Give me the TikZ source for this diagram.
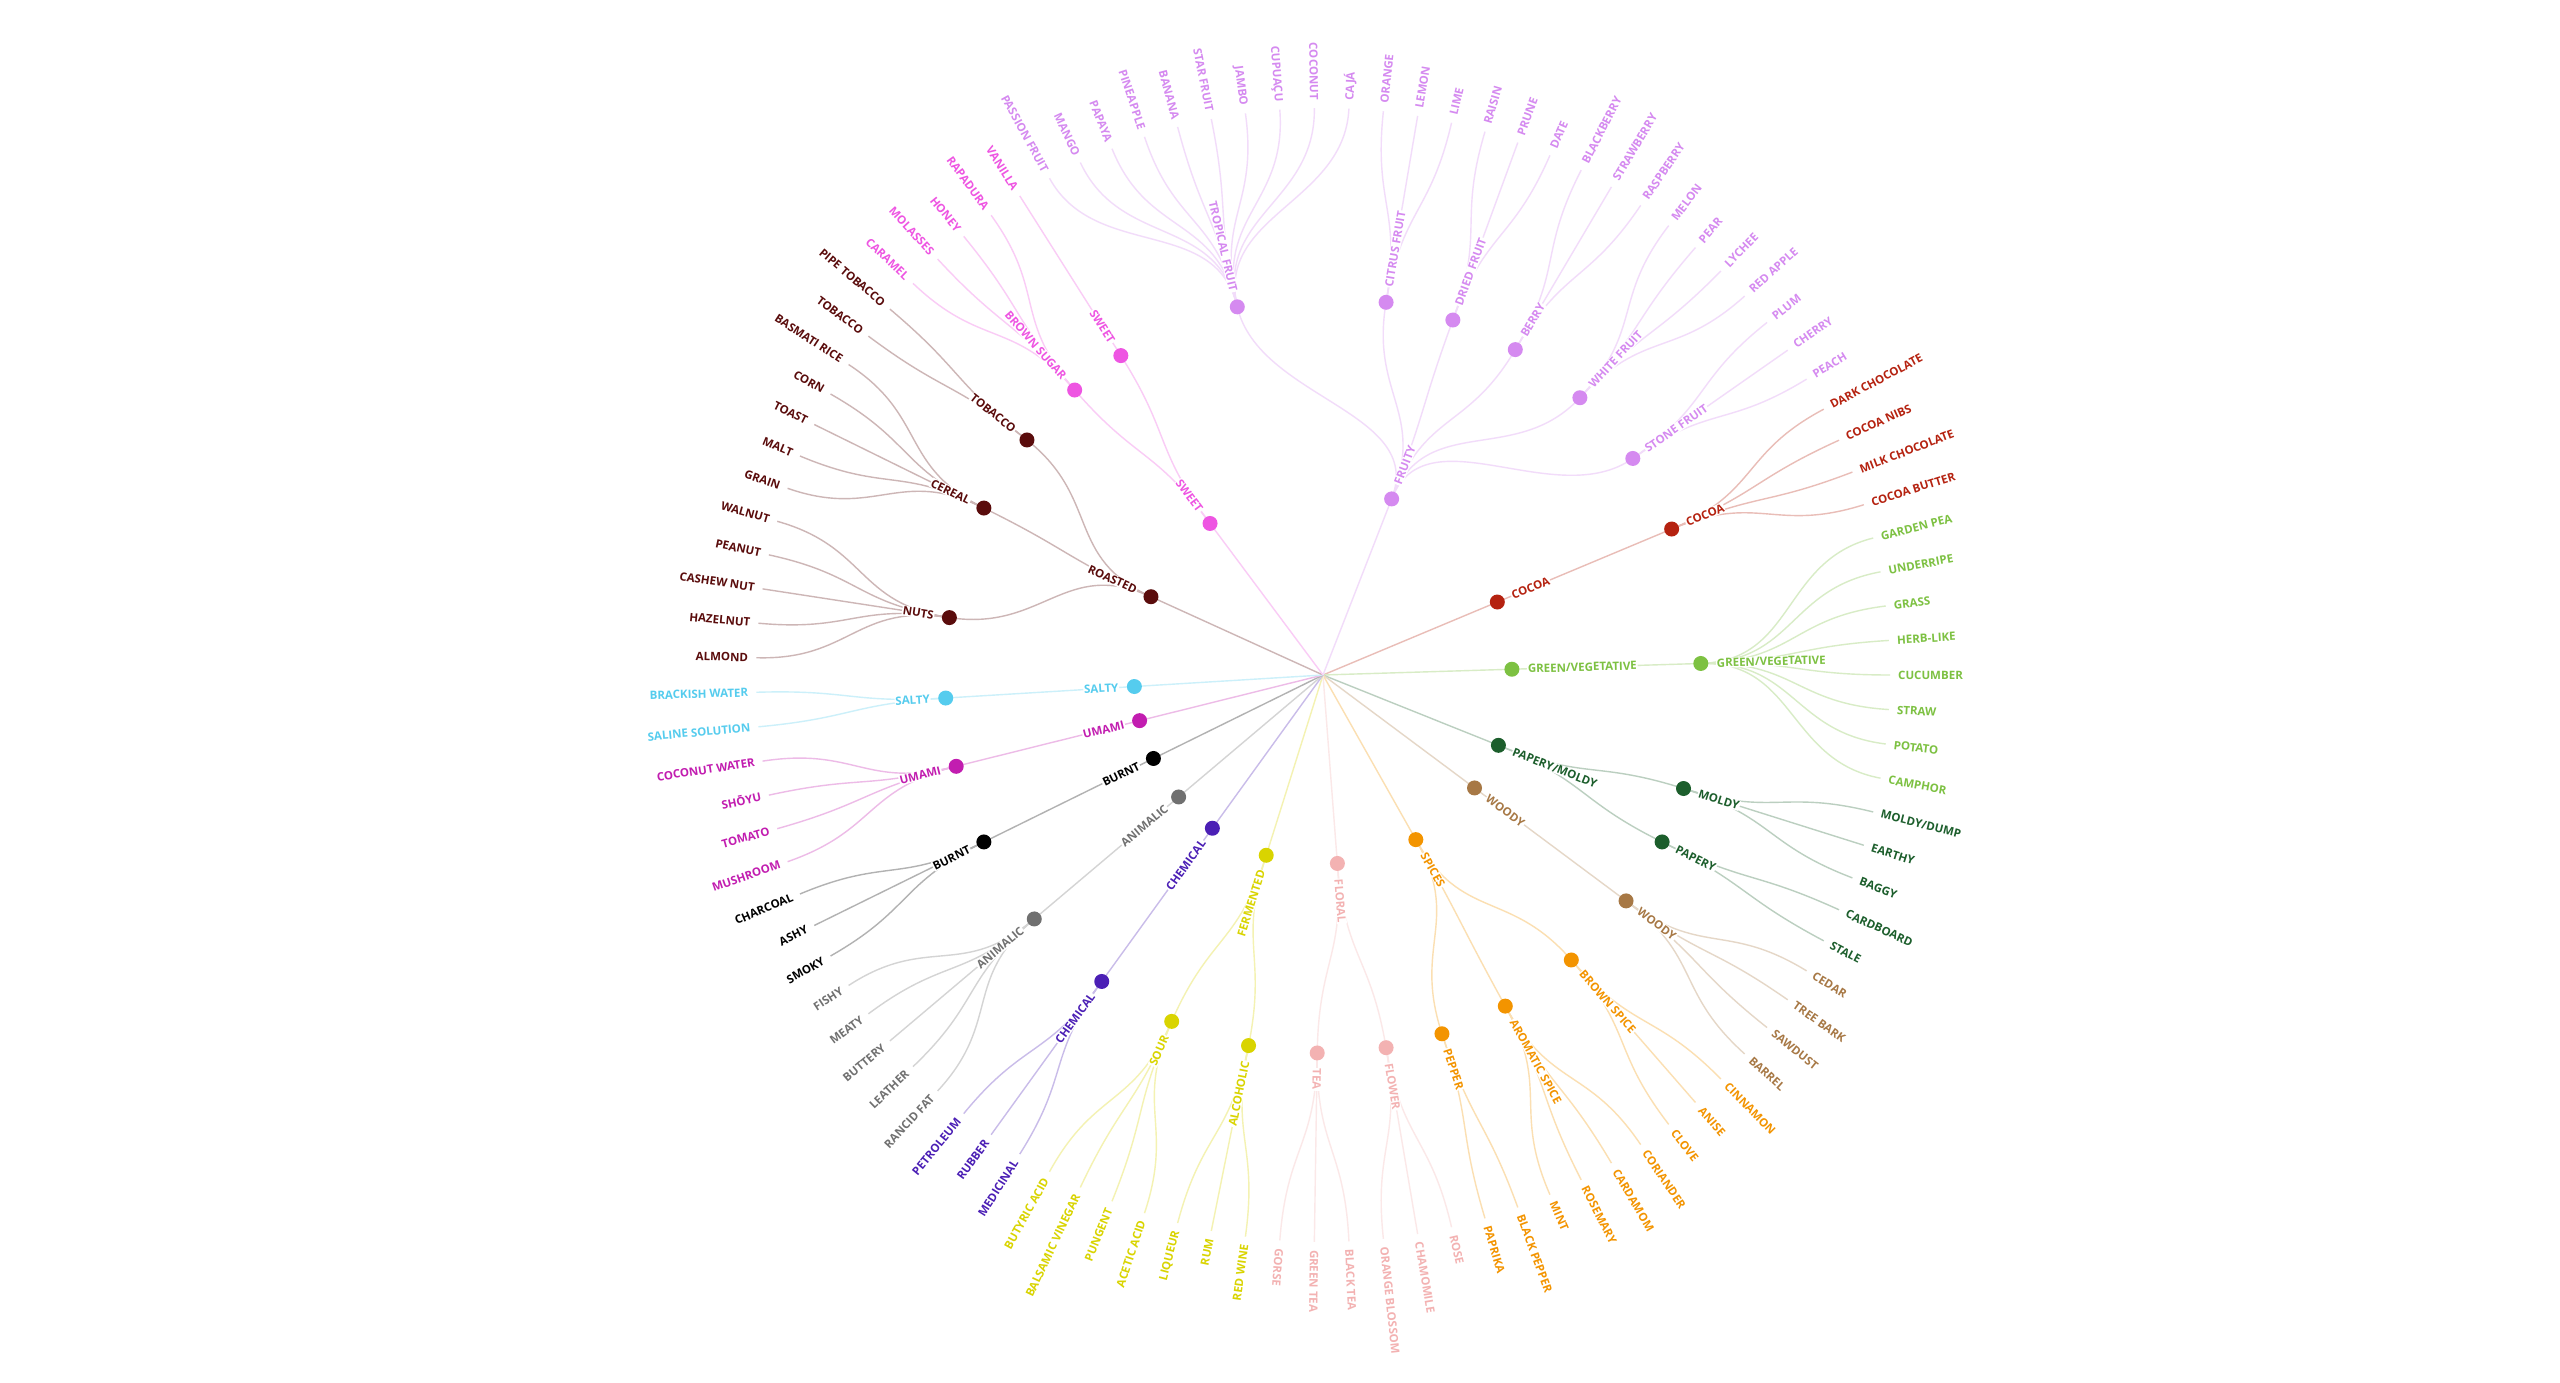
\documentclass[tikz,border=0pt]{standalone}
\usepackage{fontspec}
\setmainfont{Open Sans}
\usetikzlibrary{calc}
\pgfdeclarelayer{bg}
\pgfsetlayers{bg,main}
\definecolor{cFruity}{HTML}{D58AF0}
\definecolor{cSweet}{HTML}{EE55E2}
\definecolor{cRoasted}{HTML}{5A0C0C}
\definecolor{cSalty}{HTML}{55CCEE}
\definecolor{cUmami}{HTML}{C21DB0}
\definecolor{cBurnt}{HTML}{000000}
\definecolor{cAnimalic}{HTML}{707070}
\definecolor{cChemical}{HTML}{4B1FB5}
\definecolor{cFerm}{HTML}{D9D400}
\definecolor{cFloral}{HTML}{F3B2B2}
\definecolor{cSpices}{HTML}{F39400}
\definecolor{cWoody}{HTML}{A77845}
\definecolor{cPapery}{HTML}{1C5E2C}
\definecolor{cGreen}{HTML}{7DC142}
\definecolor{cCocoa}{HTML}{B52210}
\tikzset{
  dot/.style={circle, inner sep=0pt, minimum size=15pt},
  lab/.style={font=\bfseries\fontsize{11.5}{12}\selectfont, inner sep=0.8pt, text height=8.3pt, text depth=0pt, fill=white},
  leaflab/.style={font=\bfseries\fontsize{11.5}{12}\selectfont, inner sep=0pt, text height=8.3pt, text depth=0pt},
  link/.style={line width=1.4pt},
}
\newif\ifrightside
\newcommand\placelabel[6]{%
  \pgfmathsetmacro\na{mod(#2+540,360)-180}%
  \rightsidefalse
  \ifdim\na pt>-96pt \ifdim\na pt<89pt \rightsidetrue\fi\fi
  \ifrightside
    \node[#6, text=#4, rotate=#2, anchor=west] (#1-lab) at (#2:#3) {#5};
  \else
    \pgfmathsetmacro\rot{#2+180}%
    \node[#6, text=#4, rotate=\rot, anchor=east] (#1-lab) at (#2:#3) {#5};
  \fi
}
\newcommand\catnode[4]{%
  \pgfmathsetmacro\ang{(8-#2)*3.4951456}%
  \coordinate (#1) at (\ang:189);
  \begin{pgfonlayer}{bg}\draw[link,draw=#3!30!white] (root) -- (#1);\end{pgfonlayer}
  \node[dot, fill=#3] (#1-dot) at (#1) {};
  \placelabel{#1}{\ang}{204}{#3}{#4}{lab}
}
\newcommand\subnode[5]{%
  \pgfmathsetmacro\ang{(8-#2)*3.4951456}%
  \coordinate (#1) at (\ang:378);
  \begin{pgfonlayer}{bg}\draw[link,draw=#4!30!white] (#3) .. controls ($(root)!1.5!(#3)$) and ($(root)!0.75!(#1)$) .. (#1);\end{pgfonlayer}
  \node[dot, fill=#4] (#1-dot) at (#1) {};
  \placelabel{#1}{\ang}{393}{#4}{#5}{lab}
}
\newcommand\leaf[4]{%
  \pgfmathsetmacro\ang{(8-#1)*3.4951456}%
  \coordinate (L#1) at (\ang:567);
  \begin{pgfonlayer}{bg}\draw[link,draw=#3!30!white] (#2) .. controls ($(root)!1.25!(#2)$) and ($(root)!0.8333!(L#1)$) .. (L#1);\end{pgfonlayer}
  \placelabel{L#1}{\ang}{575}{#3}{#4}{leaflab}
}
\begin{document}
\begin{tikzpicture}[x=1pt,y=1pt]
\useasboundingbox (-1323,-707) rectangle (1237,675);
\begin{pgfonlayer}{bg}\fill[white] (-1323,-707) rectangle (1237,675);\end{pgfonlayer}
\coordinate (root) at (0,0);
% level 1
\catnode{cocoa1}{1.5}{cCocoa}{COCOA}
\catnode{green1}{7.5}{cGreen}{GREEN/VEGETATIVE}
\catnode{paper1}{14.25}{cPapery}{PAPERY/MOLDY}
\catnode{woody1}{18.5}{cWoody}{WOODY}
\catnode{spices}{25.3333}{cSpices}{SPICES}
\catnode{floral}{32.5}{cFloral}{FLORAL}
\catnode{ferm}{38.75}{cFerm}{FERMENTED}
\catnode{chem1}{44}{cChemical}{CHEMICAL}
\catnode{anim1}{48}{cAnimalic}{ANIMALIC}
\catnode{burnt1}{52}{cBurnt}{BURNT}
\catnode{umami1}{55.5}{cUmami}{UMAMI}
\catnode{salty1}{58.5}{cSalty}{SALTY}
\catnode{roasted}{66.5}{cRoasted}{ROASTED}
\catnode{sweet1}{74.75}{cSweet}{SWEET}
\catnode{fruity}{91.344}{cFruity}{FRUITY}
% level 2
\subnode{cocoa2}{1.5}{cocoa1}{cCocoa}{COCOA}
\subnode{green2}{7.5}{green1}{cGreen}{GREEN/VEGETATIVE}
\subnode{moldy}{13}{paper1}{cPapery}{MOLDY}
\subnode{papery}{15.5}{paper1}{cPapery}{PAPERY}
\subnode{woody2}{18.5}{woody1}{cWoody}{WOODY}
\subnode{bspice}{22}{spices}{cSpices}{BROWN SPICE}
\subnode{aspice}{25.5}{spices}{cSpices}{AROMATIC SPICE}
\subnode{pepper}{28.5}{spices}{cSpices}{PEPPER}
\subnode{flower}{31}{floral}{cFloral}{FLOWER}
\subnode{tea}{34}{floral}{cFloral}{TEA}
\subnode{alco}{37}{ferm}{cFerm}{ALCOHOLIC}
\subnode{sour}{40.5}{ferm}{cFerm}{SOUR}
\subnode{chem2}{44}{chem1}{cChemical}{CHEMICAL}
\subnode{anim2}{48}{anim1}{cAnimalic}{ANIMALIC}
\subnode{burnt2}{52}{burnt1}{cBurnt}{BURNT}
\subnode{umami2}{55.5}{umami1}{cUmami}{UMAMI}
\subnode{salty2}{58.5}{salty1}{cSalty}{SALTY}
\subnode{nuts}{62}{roasted}{cRoasted}{NUTS}
\subnode{cereal}{67}{roasted}{cRoasted}{CEREAL}
\subnode{tobacco}{70.5}{roasted}{cRoasted}{TOBACCO}
\subnode{bsugar}{73.5}{sweet1}{cSweet}{BROWN SUGAR}
\subnode{sweet2}{76}{sweet1}{cSweet}{SWEET}
\subnode{tropical}{81.5}{fruity}{cFruity}{TROPICAL FRUIT}
\subnode{citrus}{88}{fruity}{cFruity}{CITRUS FRUIT}
\subnode{dried}{91}{fruity}{cFruity}{DRIED FRUIT}
\subnode{berry}{94}{fruity}{cFruity}{BERRY}
\subnode{white}{97.5}{fruity}{cFruity}{WHITE FRUIT}
\subnode{stone}{101}{fruity}{cFruity}{STONE FRUIT}
% leaves
\leaf{0}{cocoa2}{cCocoa}{DARK CHOCOLATE}
\leaf{1}{cocoa2}{cCocoa}{COCOA NIBS}
\leaf{2}{cocoa2}{cCocoa}{MILK CHOCOLATE}
\leaf{3}{cocoa2}{cCocoa}{COCOA BUTTER}
\leaf{4}{green2}{cGreen}{GARDEN PEA}
\leaf{5}{green2}{cGreen}{UNDERRIPE}
\leaf{6}{green2}{cGreen}{GRASS}
\leaf{7}{green2}{cGreen}{HERB-LIKE}
\leaf{8}{green2}{cGreen}{CUCUMBER}
\leaf{9}{green2}{cGreen}{STRAW}
\leaf{10}{green2}{cGreen}{POTATO}
\leaf{11}{green2}{cGreen}{CAMPHOR}
\leaf{12}{moldy}{cPapery}{MOLDY/DUMP}
\leaf{13}{moldy}{cPapery}{EARTHY}
\leaf{14}{moldy}{cPapery}{BAGGY}
\leaf{15}{papery}{cPapery}{CARDBOARD}
\leaf{16}{papery}{cPapery}{STALE}
\leaf{17}{woody2}{cWoody}{CEDAR}
\leaf{18}{woody2}{cWoody}{TREE BARK}
\leaf{19}{woody2}{cWoody}{SAWDUST}
\leaf{20}{woody2}{cWoody}{BARREL}
\leaf{21}{bspice}{cSpices}{CINNAMON}
\leaf{22}{bspice}{cSpices}{ANISE}
\leaf{23}{bspice}{cSpices}{CLOVE}
\leaf{24}{aspice}{cSpices}{CORIANDER}
\leaf{25}{aspice}{cSpices}{CARDAMOM}
\leaf{26}{aspice}{cSpices}{ROSEMARY}
\leaf{27}{aspice}{cSpices}{MINT}
\leaf{28}{pepper}{cSpices}{BLACK PEPPER}
\leaf{29}{pepper}{cSpices}{PAPRIKA}
\leaf{30}{flower}{cFloral}{ROSE}
\leaf{31}{flower}{cFloral}{CHAMOMILE}
\leaf{32}{flower}{cFloral}{ORANGE BLOSSOM}
\leaf{33}{tea}{cFloral}{BLACK TEA}
\leaf{34}{tea}{cFloral}{GREEN TEA}
\leaf{35}{tea}{cFloral}{GORSE}
\leaf{36}{alco}{cFerm}{RED WINE}
\leaf{37}{alco}{cFerm}{RUM}
\leaf{38}{alco}{cFerm}{LIQUEUR}
\leaf{39}{sour}{cFerm}{ACETIC ACID}
\leaf{40}{sour}{cFerm}{PUNGENT}
\leaf{41}{sour}{cFerm}{BALSAMIC VINEGAR}
\leaf{42}{sour}{cFerm}{BUTYRIC ACID}
\leaf{43}{chem2}{cChemical}{MEDICINAL}
\leaf{44}{chem2}{cChemical}{RUBBER}
\leaf{45}{chem2}{cChemical}{PETROLEUM}
\leaf{46}{anim2}{cAnimalic}{RANCID FAT}
\leaf{47}{anim2}{cAnimalic}{LEATHER}
\leaf{48}{anim2}{cAnimalic}{BUTTERY}
\leaf{49}{anim2}{cAnimalic}{MEATY}
\leaf{50}{anim2}{cAnimalic}{FISHY}
\leaf{51}{burnt2}{cBurnt}{SMOKY}
\leaf{52}{burnt2}{cBurnt}{ASHY}
\leaf{53}{burnt2}{cBurnt}{CHARCOAL}
\leaf{54}{umami2}{cUmami}{MUSHROOM}
\leaf{55}{umami2}{cUmami}{TOMATO}
\leaf{56}{umami2}{cUmami}{SHŌYU}
\leaf{57}{umami2}{cUmami}{COCONUT WATER}
\leaf{58}{salty2}{cSalty}{SALINE SOLUTION}
\leaf{59}{salty2}{cSalty}{BRACKISH WATER}
\leaf{60}{nuts}{cRoasted}{ALMOND}
\leaf{61}{nuts}{cRoasted}{HAZELNUT}
\leaf{62}{nuts}{cRoasted}{CASHEW NUT}
\leaf{63}{nuts}{cRoasted}{PEANUT}
\leaf{64}{nuts}{cRoasted}{WALNUT}
\leaf{65}{cereal}{cRoasted}{GRAIN}
\leaf{66}{cereal}{cRoasted}{MALT}
\leaf{67}{cereal}{cRoasted}{TOAST}
\leaf{68}{cereal}{cRoasted}{CORN}
\leaf{69}{cereal}{cRoasted}{BASMATI RICE}
\leaf{70}{tobacco}{cRoasted}{TOBACCO}
\leaf{71}{tobacco}{cRoasted}{PIPE TOBACCO}
\leaf{72}{bsugar}{cSweet}{CARAMEL}
\leaf{73}{bsugar}{cSweet}{MOLASSES}
\leaf{74}{bsugar}{cSweet}{HONEY}
\leaf{75}{bsugar}{cSweet}{RAPADURA}
\leaf{76}{sweet2}{cSweet}{VANILLA}
\leaf{77}{tropical}{cFruity}{PASSION FRUIT}
\leaf{78}{tropical}{cFruity}{MANGO}
\leaf{79}{tropical}{cFruity}{PAPAYA}
\leaf{80}{tropical}{cFruity}{PINEAPPLE}
\leaf{81}{tropical}{cFruity}{BANANA}
\leaf{82}{tropical}{cFruity}{STAR FRUIT}
\leaf{83}{tropical}{cFruity}{JAMBO}
\leaf{84}{tropical}{cFruity}{CUPUAÇU}
\leaf{85}{tropical}{cFruity}{COCONUT}
\leaf{86}{tropical}{cFruity}{CAJÁ}
\leaf{87}{citrus}{cFruity}{ORANGE}
\leaf{88}{citrus}{cFruity}{LEMON}
\leaf{89}{citrus}{cFruity}{LIME}
\leaf{90}{dried}{cFruity}{RAISIN}
\leaf{91}{dried}{cFruity}{PRUNE}
\leaf{92}{dried}{cFruity}{DATE}
\leaf{93}{berry}{cFruity}{BLACKBERRY}
\leaf{94}{berry}{cFruity}{STRAWBERRY}
\leaf{95}{berry}{cFruity}{RASPBERRY}
\leaf{96}{white}{cFruity}{MELON}
\leaf{97}{white}{cFruity}{PEAR}
\leaf{98}{white}{cFruity}{LYCHEE}
\leaf{99}{white}{cFruity}{RED APPLE}
\leaf{100}{stone}{cFruity}{PLUM}
\leaf{101}{stone}{cFruity}{CHERRY}
\leaf{102}{stone}{cFruity}{PEACH}
\end{tikzpicture}
\end{document}
